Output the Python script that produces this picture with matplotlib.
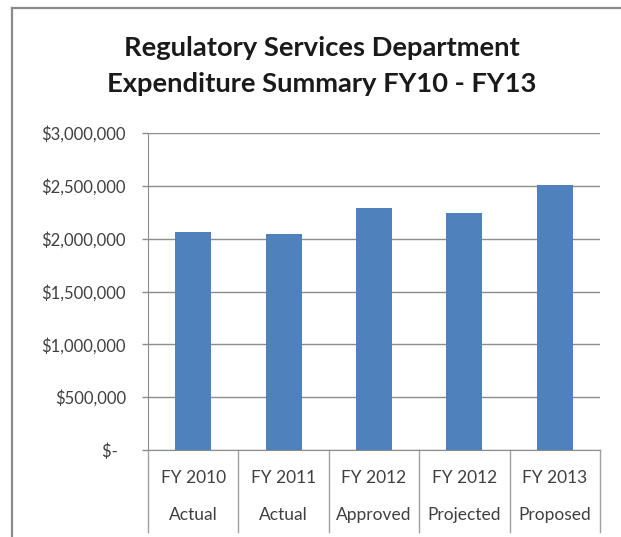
import matplotlib
matplotlib.use("Agg")
import matplotlib.pyplot as plt
from matplotlib.lines import Line2D
from matplotlib.ticker import FuncFormatter

years = ["FY 2010", "FY 2011", "FY 2012", "FY 2012", "FY 2013"]
kinds = ["Actual", "Actual", "Approved", "Projected", "Proposed"]
values = [2063000, 2044000, 2290000, 2246000, 2510000]
yticks = [0, 500000, 1000000, 1500000, 2000000, 2500000, 3000000]

plt.rcParams['font.family'] = ['Lato', 'DejaVu Sans']

W, H = 621, 537
fig = plt.figure(figsize=(W / 100, H / 100), dpi=100)
fig.patch.set_facecolor('white')

# chart border
fig.add_artist(Line2D([12 / W, 12 / W], [0, 1 - 8 / H], color='#8a8a8a', lw=1.6, transform=fig.transFigure))
fig.add_artist(Line2D([12 / W, 1], [1 - 8 / H, 1 - 8 / H], color='#8a8a8a', lw=1.6, transform=fig.transFigure))

left, right, top, bottom = 148, 600, 133, 450
ax = fig.add_axes([left / W, 1 - bottom / H, (right - left) / W, (bottom - top) / H])

x = list(range(len(values)))
ax.bar(x, values, width=0.4, color='#4F81BD', zorder=3)
ax.set_xlim(-0.5, len(values) - 0.5)
ax.set_ylim(0, 3000000)
ax.set_yticks(yticks)

def fmt(v, pos):
    if v == 0:
        return "$-  "
    return "${:,.0f}".format(v)

ax.yaxis.set_major_formatter(FuncFormatter(fmt))
ax.yaxis.grid(True, color='#8c8c8c', lw=1.0, zorder=0)
ax.tick_params(axis='y', length=4, width=1, color='#8c8c8c', pad=12, labelsize=12, labelcolor='#404040')
ax.set_xticks([])
for s in ['top', 'right']:
    ax.spines[s].set_visible(False)
ax.spines['left'].set_color('#8c8c8c')
ax.spines['bottom'].set_color('#8c8c8c')

h = bottom - top
tr = ax.get_xaxis_transform()
for i, (yr, kd) in enumerate(zip(years, kinds)):
    ax.text(i, -28 / h, yr, transform=tr, ha='center', va='center', fontsize=12.5, color='#404040')
    ax.text(i, -65 / h, kd, transform=tr, ha='center', va='center', fontsize=12.5, color='#404040')
for b in range(len(values) + 1):
    ax.add_line(Line2D([b - 0.5, b - 0.5], [0, -82 / h], transform=tr, color='#a0a0a0', lw=1.0, clip_on=False))

fig.text(322 / W, 1 - 48 / H, "Regulatory Services Department", ha='center', va='center',
         fontsize=19.7, fontweight='bold', color='#1a1a1a')
fig.text(322 / W, 1 - 84 / H, "Expenditure Summary FY10 - FY13", ha='center', va='center',
         fontsize=19.7, fontweight='bold', color='#1a1a1a')

fig.savefig("out.png", dpi=100)
